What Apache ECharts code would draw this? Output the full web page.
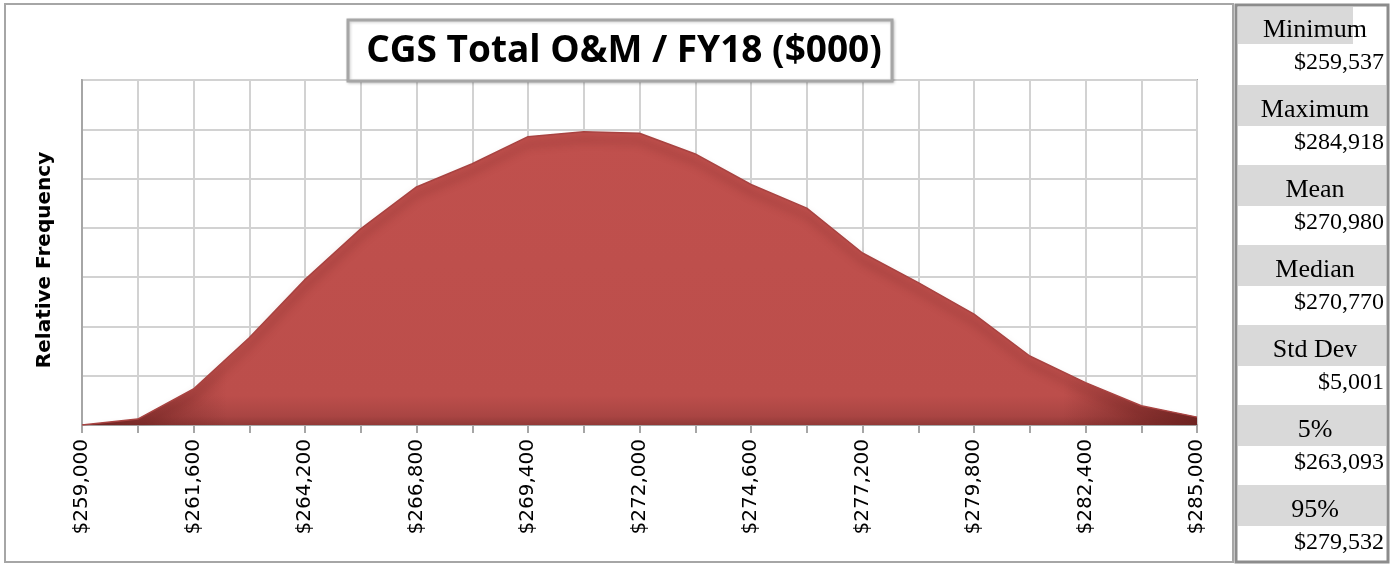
<!DOCTYPE html>
<html>
<head>
<meta charset="utf-8">
<title>CGS Total O&amp;M / FY18</title>
<script src="https://cdn.jsdelivr.net/npm/echarts@6/dist/echarts.min.js"></script>
<style>
  html, body { margin: 0; padding: 0; background: #fff; }
  #chart { width: 1395px; height: 566px; }
</style>
</head>
<body>
<div id="chart"></div>
<script>
// bins of the histogram ($000)
const bins = [
  259000, 260300, 261600, 262900, 264200, 265500, 266800, 268100, 269400, 270700, 272000,
  273300, 274600, 275900, 277200, 278500, 279800, 281100, 282400, 283700, 285000
]
// relative frequency, read in units of gridlines
const freq = [
  0, 0.12, 0.73, 1.77, 2.95, 3.98, 4.83, 5.3, 5.85, 5.95, 5.92,
  5.5, 4.88, 4.4, 3.49, 2.89, 2.25, 1.4, 0.86, 0.39, 0.16
]

// statistics panel
const statLabels = ["Minimum", "Maximum", "Mean", "Median", "Std Dev", "5%", "95%"]
const statValues = ["$259,537", "$284,918", "$270,980", "$270,770", "$5,001", "$263,093", "$279,532"]

const chart = echarts.init(document.getElementById("chart"))

function money(v) {
  return "$" + Number(v).toLocaleString("en-US")
}

// 外框和统计面板
const panel = []
panel.push({
  type: "rect",
  shape: { x: 5, y: 4, width: 1228, height: 558 },
  style: { fill: "none", stroke: "#a6a6a6", lineWidth: 2 },
  z: 10
})
panel.push({
  type: "rect",
  shape: { x: 1236, y: 5, width: 152, height: 557 },
  style: { fill: "#fff", stroke: "#8c8c8c", lineWidth: 3 },
  z: 10
})
for (let i = 0; i < statLabels.length; i++) {
  const top = 5 + i * 80
  panel.push({
    type: "rect",
    shape: { x: 1238, y: Math.max(top, 7), width: i === 0 ? 115 : 148, height: i === 0 ? 37 : 41 },
    style: { fill: "#d9d9d9" },
    z: 11
  })
  panel.push({
    type: "text",
    x: 1315,
    y: top + 25,
    style: {
      text: statLabels[i],
      font: "26px 'Liberation Serif'",
      fill: "#000",
      align: "center",
      verticalAlign: "middle"
    },
    z: 12
  })
  panel.push({
    type: "text",
    x: 1384,
    y: top + 58,
    style: {
      text: statValues[i],
      font: "24px 'Liberation Serif'",
      fill: "#000",
      align: "right",
      verticalAlign: "middle"
    },
    z: 12
  })
}

// 标题框
panel.push({
  type: "rect",
  shape: { x: 348, y: 20, width: 544, height: 61 },
  style: {
    fill: "#fff",
    stroke: "#a6a6a6",
    lineWidth: 3,
    shadowBlur: 3,
    shadowColor: "rgba(0,0,0,0.2)",
    shadowOffsetX: 1,
    shadowOffsetY: 1
  },
  z: 20
})
panel.push({
  type: "text",
  x: 624,
  y: 51,
  style: {
    text: "CGS Total O&M / FY18 ($000)",
    font: "bold 37px 'Open Sans'",
    fill: "#000",
    align: "center",
    verticalAlign: "middle"
  },
  z: 21
})

// 纵轴标题
panel.push({
  type: "text",
  x: 45,
  y: 260,
  rotation: Math.PI / 2,
  style: {
    text: "Relative Frequency",
    font: "bold 20px 'DejaVu Sans'",
    fill: "#000",
    align: "center",
    verticalAlign: "middle"
  },
  z: 12
})

const gridColor = "#d2d2d2"
const axisColor = "#a6a6a6"

const option = {
  animation: false,
  backgroundColor: "#fff",
  grid: {
    left: 82,
    right: 198,
    top: 80,
    bottom: 141,
    show: true,
    borderColor: axisColor,
    borderWidth: 2,
    backgroundColor: "#fff"
  },
  xAxis: {
    type: "category",
    data: bins,
    boundaryGap: false,
    axisLine: { show: true, lineStyle: { color: axisColor, width: 2 } },
    axisTick: { show: true, interval: 0, length: 8, lineStyle: { color: axisColor, width: 2 } },
    splitLine: { show: true, interval: 0, lineStyle: { color: gridColor, width: 2 } },
    axisLabel: {
      interval: 1,
      rotate: 90,
      margin: 14,
      fontFamily: "DejaVu Sans",
      fontSize: 20,
      color: "#000",
      formatter: money
    }
  },
  yAxis: {
    type: "value",
    min: 0,
    max: 7,
    interval: 1,
    axisLine: { show: true, lineStyle: { color: axisColor, width: 2 } },
    axisTick: { show: false },
    axisLabel: { show: false },
    splitLine: { show: true, lineStyle: { color: gridColor, width: 2 } }
  },
  series: [
    {
      type: "line",
      data: freq,
      symbol: "none",
      lineStyle: { width: 0 },
      areaStyle: {
        opacity: 1,
        color: new echarts.graphic.LinearGradient(0, 0, 0, 1, [
          { offset: 0, color: "#c0504d" },
          { offset: 0.9, color: "#bc4e4b" },
          { offset: 0.97, color: "#a94543" },
          { offset: 1, color: "#923937" }
        ])
      }
    },
    {
      // 两端暗边 + 上沿的阴影
      type: "line",
      data: freq,
      symbol: "none",
      lineStyle: {
        width: 1.5,
        color: "#a84341",
        shadowBlur: 9,
        shadowOffsetY: 8,
        shadowColor: "rgba(105,30,28,0.85)"
      },
      areaStyle: {
        opacity: 1,
        color: new echarts.graphic.LinearGradient(0, 0, 1, 0, [
          { offset: 0, color: "rgba(110,35,33,0.95)" },
          { offset: 0.13, color: "rgba(110,35,33,0)" },
          { offset: 0.88, color: "rgba(110,35,33,0)" },
          { offset: 1, color: "rgba(110,35,33,0.95)" }
        ])
      }
    }
  ],
  graphic: panel
}

chart.setOption(option)
</script>
</body>
</html>
